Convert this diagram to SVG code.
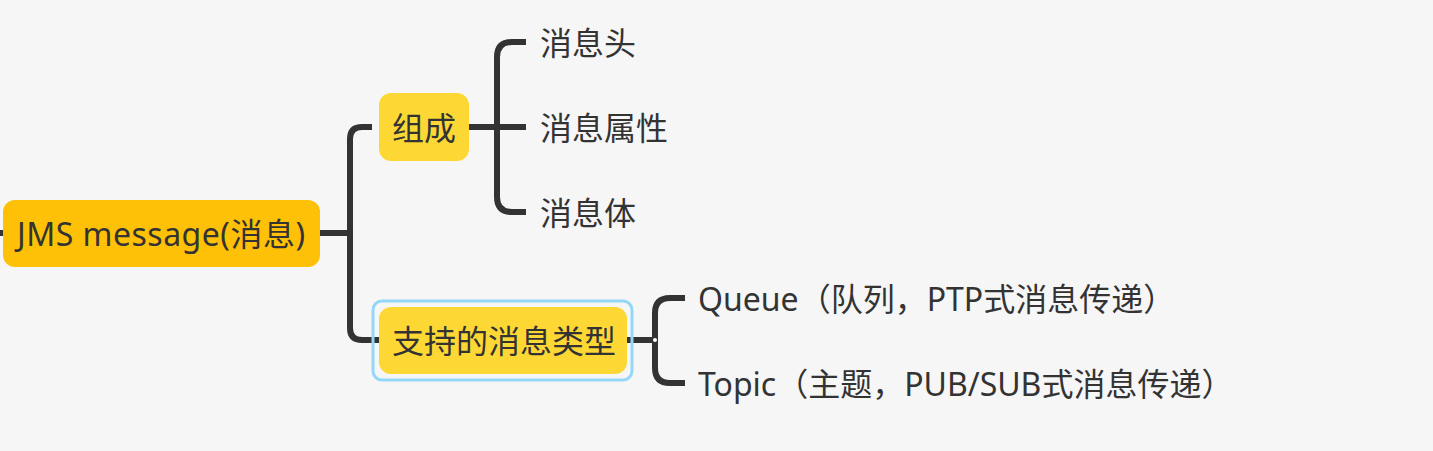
<svg xmlns="http://www.w3.org/2000/svg" width="1433" height="451" viewBox="0 0 1433 451">
<style>
.t{font-family:"Noto Sans","Noto Sans CJK SC",sans-serif;font-size:32px;fill:#333333;dominant-baseline:central}
.ln{fill:none;stroke:#333333;stroke-width:6;stroke-linecap:butt}
</style>
<rect width="1433" height="451" fill="#f6f6f6"/>
<g id="connectors">
<path class="ln" d="M0 233H350"/>
<path class="ln" d="M372 127H362Q350 127 350 139V328Q350 340 362 340H379"/>
<path class="ln" d="M469 127H497"/>
<path class="ln" d="M526 42H512Q497 42 497 57V197Q497 212 512 212H526"/>
<path class="ln" d="M497 127H526"/>
<path class="ln" d="M627 340H655"/>
<path class="ln" d="M685 298H670Q655 298 655 313V368Q655 383 670 383H685"/>
<circle cx="655" cy="340" r="2" fill="#ffffff"/>
</g>
<g id="root">
<rect x="3" y="200" width="317" height="67" rx="12" fill="#ffc107"/>
<text class="t" x="17" y="233" textLength="288" lengthAdjust="spacing">JMS message(消息)</text>
</g>
<g id="n-zucheng">
<rect x="379" y="93" width="90" height="68" rx="12" fill="#fdd835"/>
<text class="t" x="392" y="127">组成</text>
</g>
<g id="n-header"><text class="t" x="540" y="42">消息头</text></g>
<g id="n-props"><text class="t" x="540" y="127">消息属性</text></g>
<g id="n-body"><text class="t" x="540" y="212">消息体</text></g>
<g id="n-types">
<rect x="373" y="301" width="259" height="79" rx="9" fill="none" stroke="#94d8f8" stroke-width="3"/>
<rect x="379" y="307" width="248" height="67" rx="12" fill="#fdd835"/>
<text class="t" x="392" y="340">支持的消息类型</text>
</g>
<g id="n-queue"><text class="t" x="698" y="298">Queue（队列，PTP式消息传递）</text></g>
<g id="n-topic"><text class="t" x="698" y="383">Topic（主题，PUB/SUB式消息传递）</text></g>
</svg>
